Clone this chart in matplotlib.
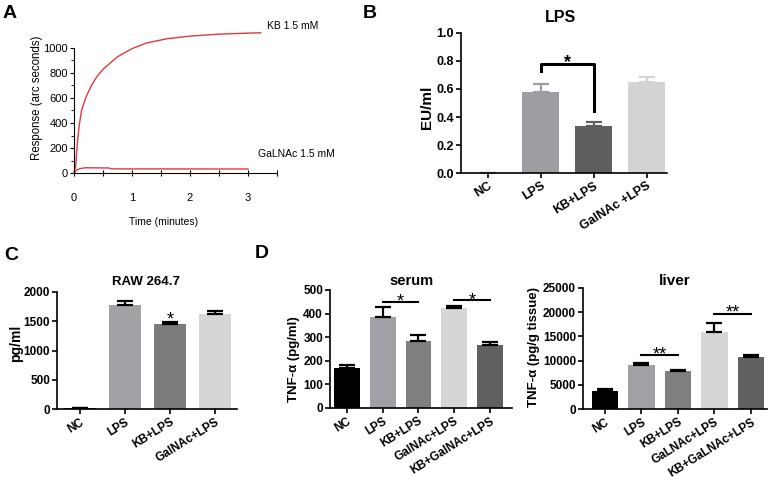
import numpy as np
import matplotlib
matplotlib.use("Agg")
from matplotlib import pyplot as plt
from matplotlib.ticker import MultipleLocator

plt.rcParams['font.family'] = ['Liberation Sans', 'DejaVu Sans']

# panel A: binding response curves
a_kb_t = [0, 0.03, 0.06, 0.09, 0.13, 0.2, 0.3, 0.4, 0.5, 0.6, 0.75, 1.0, 1.25, 1.6, 2.0, 2.5, 3.0, 3.22]
a_kb_r = [0, 60, 250, 380, 500, 600, 700, 775, 830, 870, 930, 995, 1040, 1074, 1095, 1111, 1119, 1122]
a_gal_t = [0, 0.05, 0.1, 0.2, 0.6, 0.65, 3.0]
a_gal_r = [0, 25, 35, 42, 40, 33, 32]

# panel B: LPS
b_labels = ['NC', 'LPS', 'KB+LPS', 'GalNAc +LPS']
b_mean = [0, 0.58, 0.337, 0.649]
b_top = [0, 0.634, 0.366, 0.686]

# panel C: RAW 264.7
c_labels = ['NC', 'LPS', 'KB+LPS', 'GalNAc+LPS']
c_mean = [12, 1770, 1445, 1632]
c_top = [18, 1845, 1480, 1670]

# panel D
serum_labels = ['NC', 'LPS', 'KB+LPS', 'GalNAc+LPS', 'KB+GalNAc+LPS']
serum_mean = [168, 384, 283, 422, 267]
serum_top = [182, 427, 309, 434, 280]
liver_labels = ['NC', 'LPS', 'KB+LPS', 'GaLNAc+LPS', 'KB+GaLNAc+LPS']
liver_mean = [3750, 9160, 7800, 15850, 10800]
liver_top = [4040, 9500, 8140, 17700, 11070]

W, H = 770, 480
fig = plt.figure(figsize=(W / 100, H / 100), dpi=100)


def box(l, t, r, b):
    return [l / W, 1 - b / H, (r - l) / W, (b - t) / H]


def ftext(x, y, s, **kw):
    fig.text(x / W, 1 - y / H, s, **kw)


def star(ax, x, y, s, size=13, bold=False):
    # y is where the middle of the star glyph should sit
    ax.annotate(s, (x, y), xytext=(0, -0.57 * size), textcoords='offset points',
                ha='center', va='baseline', fontsize=size,
                fontweight='bold' if bold else 'normal')


def bar_axes(rect, labels, mean, top, colors, ecolor, ylim, yticks, xlim, width, capsize,
             xsize=8, ysize=8.5):
    ax = fig.add_axes(box(*rect))
    x = np.arange(len(labels))
    for i in x:
        ec = colors[i] if ecolor is None else ecolor
        ax.bar(x[i], mean[i], width, color=colors[i],
               yerr=[[0], [top[i] - mean[i]]], capsize=capsize,
               error_kw=dict(ecolor=ec, elinewidth=1.6, capthick=1.6))
    ax.set_xlim(*xlim)
    ax.set_ylim(*ylim)
    ax.set_yticks(yticks)
    ax.set_xticks(x)
    ax.set_xticklabels(labels, rotation=32, ha='right', rotation_mode='anchor',
                       fontsize=xsize, fontweight='bold')
    for t in ax.get_yticklabels():
        t.set_fontweight('bold')
        t.set_fontsize(ysize)
    for s in ['top', 'right']:
        ax.spines[s].set_visible(False)
    for s in ['left', 'bottom']:
        ax.spines[s].set_linewidth(1.2)
    ax.tick_params(width=1.2, length=3.5, pad=1.5)
    return ax


# ---- A ----
axA = fig.add_axes(box(74, 48, 277, 173))
axA.plot(a_kb_t, a_kb_r, color='#e03a3e', lw=1, clip_on=False)
axA.plot(a_gal_t, a_gal_r, color='#e03a3e', lw=1, clip_on=False)
axA.set_xlim(0, 3.5)
axA.set_ylim(0, 1000)
axA.set_xticks(np.arange(0, 3.51, 0.5))
axA.set_xticklabels(['0', '', '1', '', '2', '', '3', ''])
axA.set_yticks(range(0, 1001, 200))
axA.yaxis.set_minor_locator(MultipleLocator(100))
for s in ['top', 'right']:
    axA.spines[s].set_visible(False)
axA.tick_params(axis='x', direction='inout', length=5, pad=12, labelsize=8)
axA.tick_params(axis='y', length=3, pad=1.5, labelsize=8)
axA.tick_params(axis='y', which='minor', length=2)
ftext(37, 98, 'Response (arc seconds)', rotation=90, ha='center', va='center', fontsize=8.3)
ftext(164, 222, 'Time (minutes)', ha='center', va='center', fontsize=7.5)
ftext(267, 26, 'KB 1.5 mM', ha='left', va='center', fontsize=7.5)
ftext(258, 154, 'GaLNAc 1.5 mM', ha='left', va='center', fontsize=7.5)

# ---- B ----
axB = bar_axes((461, 33, 667, 173), b_labels, b_mean, b_top,
               ['#9d9da3', '#9d9da3', '#5f5f5f', '#d3d3d3'], None,
               (0, 1.0), np.arange(0, 1.01, 0.2), (-0.51, 3.38), 0.7, 6, xsize=9, ysize=9)
axB.set_yticklabels(['0.0', '0.2', '0.4', '0.6', '0.8', '1.0'], fontweight='bold', fontsize=9)
axB.plot([1, 1, 2, 2], [0.726, 0.78, 0.78, 0.445], color='black', lw=2.2)
star(axB, 1.5, 0.832, '*', size=13, bold=True)
ftext(560, 17, 'LPS', ha='center', va='center', fontsize=11.5, fontweight='bold')
ftext(427, 107, 'EU/ml', rotation=90, ha='center', va='center', fontsize=11, fontweight='bold')

# ---- C ----
axC = bar_axes((57, 292, 237, 409), c_labels, c_mean, c_top,
               ['#1a1a1a', '#a1a1a6', '#7b7b7b', '#d6d6d6'], 'black',
               (0, 2000), range(0, 2001, 500), (-0.51, 3.49), 0.72, 6, xsize=8.5)
star(axC, 2, 1615, '*', size=13)
ftext(146, 282, 'RAW 264.7', ha='center', va='center', fontsize=9.5, fontweight='bold')
ftext(16, 343, 'pg/ml', rotation=90, ha='center', va='center', fontsize=10, fontweight='bold')

d_colors = ['#000000', '#a0a0a6', '#7f7f7f', '#d6d6d6', '#606060']

# ---- D serum ----
axS = bar_axes((330, 290, 512, 408), serum_labels, serum_mean, serum_top,
               d_colors, 'black', (0, 500), range(0, 501, 100), (-0.47, 4.61), 0.72, 5.5,
               xsize=8.5)
axS.plot([1, 2], [450, 450], color='black', lw=1.5)
axS.plot([3, 4], [459, 459], color='black', lw=1.5)
star(axS, 1.5, 475, '*')
star(axS, 3.5, 479, '*')
ftext(412, 281, 'serum', ha='center', va='center', fontsize=10.5, fontweight='bold')
ftext(294, 359, 'TNF-α (pg/ml)', rotation=90, ha='center', va='center', fontsize=9.5, fontweight='bold')

# ---- D liver ----
axL = bar_axes((583, 288, 767, 409), liver_labels, liver_mean, liver_top,
               d_colors, 'black', (0, 25000), range(0, 25001, 5000), (-0.6, 4.44), 0.72, 5.5,
               xsize=8.5)
axL.plot([1, 2], [11070, 11070], color='black', lw=1.5)
axL.plot([3, 4], [19540, 19540], color='black', lw=1.5)
star(axL, 1.5, 12440, '**')
star(axL, 3.5, 20950, '**')
ftext(675, 281, 'liver', ha='center', va='center', fontsize=11, fontweight='bold')
ftext(534, 347, 'TNF-α (pg/g tissue)', rotation=90, ha='center', va='center', fontsize=9.5, fontweight='bold')

# panel letters
for s, x, y in [('A', 3, 13), ('B', 363, 13), ('C', 4, 256), ('D', 255, 253)]:
    ftext(x, y, s, ha='left', va='center', fontsize=14, fontweight='bold')

fig.savefig('out.png', dpi=100)
